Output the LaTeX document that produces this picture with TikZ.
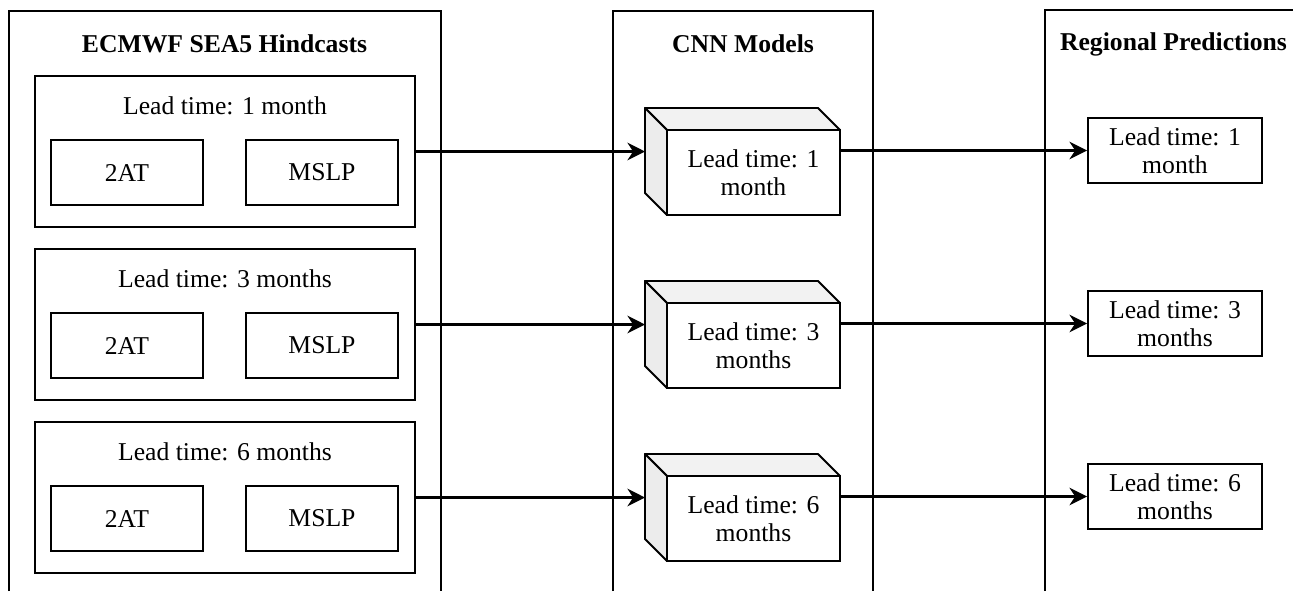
\documentclass[tikz,border=0pt]{standalone}
\usepackage{fontspec}
\setmainfont{Liberation Serif}
\usetikzlibrary{arrows.meta}
\tikzset{
  >={Stealth[length=10pt, width=10pt]},
  every node/.style={font=\fontsize{14.6}{16}\selectfont},
  lane/.style={line width=1pt},
  lanetitle/.style={font=\fontsize{14.6}{16}\selectfont\bfseries},
  leadbox/.style={draw, line width=1.1pt, minimum width=7.6cm, minimum height=3.02cm},
  varbox/.style={draw, line width=1.1pt, minimum width=3.04cm, minimum height=1.3cm},
  cubefront/.style={draw, fill=white, line width=1.1pt, outer sep=0pt, minimum width=3.46cm, minimum height=1.7cm, align=center},
  cubetop/.style={draw, fill=gray!10, line width=1.1pt, line join=round},
  cubeside/.style={draw, fill=gray!15, line width=1.1pt, line join=round},
  predbox/.style={draw, line width=1.1pt, minimum width=3.48cm, minimum height=1.3cm, align=center},
  link/.style={line width=1.4pt, ->},
}
\newcommand{\LeadGroup}[3]{
  \node [leadbox] (#1) at (4.5, #3) {};
  \node (#1-text) at (4.5, #3+0.91) {Lead time: #2};
  \node [varbox] (#1-2at) at (2.54, #3-0.42) {2AT};
  \node [varbox] (#1-mslp) at (6.44, #3-0.42) {MSLP};
}
\newcommand{\ModelCube}[3]{
  \node [cubefront] (#1) at (15.07, #3) {Lead time: #2};
  \filldraw [cubetop] (#1.north west) -- ++(-0.44, 0.44) -- ++(3.46, 0) -- (#1.north east) -- cycle;
  \filldraw [cubeside] (#1.north west) -- ++(-0.44, 0.44) -- ++(0, -1.7) -- (#1.south west) -- cycle;
  \coordinate (#1-back) at ([shift={(-0.44, 0.44)}]#1.west);
}
\newcommand{\PredBox}[3]{
  \node [predbox] (#1) at (23.5, #3) {Lead time: #2};
}
\newcommand{\Feed}[2]{
  \draw [link] (#1.east) -- (#1.east -| #2-back);
}
\newcommand{\Predict}[2]{
  \draw [link] (#2.west -| #1.east) -- (#2.west);
}

\begin{document}
\begin{tikzpicture}
        \useasboundingbox (0, 0) rectangle (25.86, -11.82);

        % swim lanes, open at the bottom
        \draw [lane] (0.18, -11.82) |- (8.82, -0.22) -- (8.82, -11.82);
        \draw [lane] (12.26, -11.82) |- (17.46, -0.22) -- (17.46, -11.82);
        \draw [lane] (20.9, -11.82) |- (25.86, -0.2);
        \node [lanetitle] (hindtitle) at (4.49, -0.88) {ECMWF SEA5 Hindcasts};
        \node [lanetitle] (cnntitle) at (14.86, -0.88) {CNN Models};
        \node [lanetitle] (predtitle) at (23.47, -0.88) {Regional Predictions};

        % hindcast inputs
        \LeadGroup{h1}{1 month}{-3.03}
        \LeadGroup{h3}{3 months}{-6.49}
        \LeadGroup{h6}{6 months}{-9.95}

        % one CNN per lead time
        \ModelCube{c1}{1\\month}{-3.45}
        \ModelCube{c3}{3\\months}{-6.91}
        \ModelCube{c6}{6\\months}{-10.37}

        % predictions
        \PredBox{p1}{1\\month}{-3.01}
        \PredBox{p3}{3\\months}{-6.47}
        \PredBox{p6}{6\\months}{-9.93}

        \Feed{h1}{c1} \Feed{h3}{c3} \Feed{h6}{c6}
        \Predict{c1}{p1} \Predict{c3}{p3} \Predict{c6}{p6}

\end{tikzpicture}
\end{document}
